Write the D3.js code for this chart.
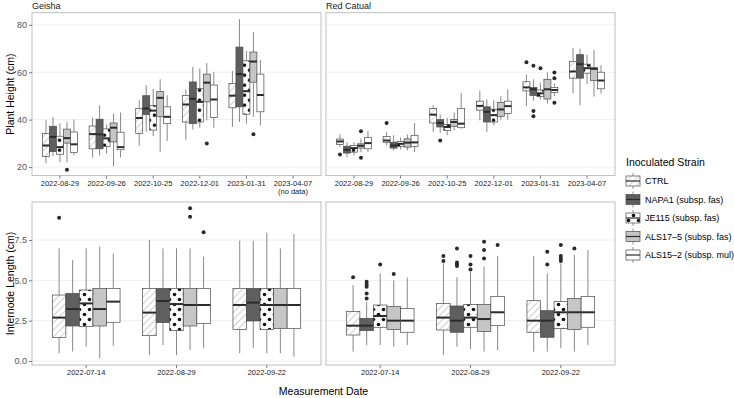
<!DOCTYPE html>
<html>
<head>
<meta charset="utf-8">
<script src="https://cdn.jsdelivr.net/npm/d3@7"></script>
<style>
  body { margin: 0; background: #fff; }
  svg { font-family: "Liberation Sans", Arial, sans-serif; }
</style>
</head>
<body>
<svg id="chart" width="734" height="398"></svg>
<script>
// strains, in dodge order
const strains = ['CTRL', 'NAPA1', 'JE115', 'ALS17-5', 'ALS15-2'];
const strainLabels = ['CTRL', 'NAPA1 (subsp. fas)', 'JE115 (subsp. fas)', 'ALS17–5 (subsp. fas)', 'ALS15–2 (subsp. mul)'];

const heightDates = ['2022-08-29', '2022-09-26', '2022-10-25', '2022-12-01', '2023-01-31', '2023-04-07'];
const internodeDates = ['2022-07-14', '2022-08-29', '2022-09-22'];
const heightTicks = [20, 40, 60, 80];
const internodeTicks = [0, 2.5, 5, 7.5];

// [lower whisker, q1, median, q3, upper whisker] - one row per strain, one block per date
const geishaHeight = [
  [[21.6, 24.4, 29.1, 34.1, 39.7], [24.6, 26.5, 32.7, 37.2, 41.1], [22, 25.4, 28.4, 33.0, 38.5], [22, 30.1, 32.2, 36.0, 39], [25, 26.1, 29.6, 34.8, 40]],
  [[24, 27.7, 33.9, 37.3, 40.9], [24.9, 27.7, 33.8, 40.2, 46], [25.6, 28.7, 32.1, 36.1, 38], [20.3, 30.6, 36.6, 38.6, 42.6], [24, 27.3, 28.4, 34.7, 43]],
  [[29, 34.1, 40.7, 44.7, 48.2], [35, 42.1, 44.7, 50.1, 54.6], [33, 35.6, 43.8, 46, 52.9], [26.3, 41.2, 49.2, 51.8, 57], [31, 38.3, 41.2, 45.4, 50.3]],
  [[31.5, 39, 46.4, 50.2, 52.7], [35.8, 38.3, 48.8, 55.9, 62.3], [36.6, 39, 47.5, 53.2, 61.6], [39.7, 47.5, 55.6, 59.2, 63.8], [36.6, 40.9, 48.5, 54.6, 60.1]],
  [[36.9, 45, 50.1, 55.3, 60.5], [39, 45.4, 59.2, 70.6, 82.4], [38.3, 42.3, 52, 64.8, 69], [41.2, 55.8, 64.5, 68.5, 76.9], [37.6, 43.3, 50.4, 59.2, 65.2]],
];
const catuaiHeight = [
  [[28.4, 29.5, 30.8, 31.8, 33.8], [24.2, 25.9, 27.3, 28.8, 30.5], [24.9, 26.3, 28, 29.1, 30.5], [26.3, 28, 29, 29.8, 32], [26.3, 27.7, 30.1, 32.4, 35.2]],
  [[29.1, 30.3, 31.2, 32.9, 34.8], [27, 28, 29.1, 30.5, 33.4], [27.5, 28.7, 29.8, 30.8, 32.5], [27, 28.4, 30.3, 31.9, 33.7], [26.3, 28.7, 30.4, 33.4, 38.6]],
  [[34.8, 38.6, 42.1, 44.7, 46.1], [34.4, 36.9, 38.6, 40, 42.1], [33.4, 35.5, 36.9, 38, 40.8], [35.5, 37.2, 39, 40.1, 43], [36.2, 36.6, 38.3, 44.7, 51.3]],
  [[39.7, 44, 45.8, 47.8, 52.2], [34.8, 39, 43.3, 45.4, 48.5], [37.6, 39, 41.9, 44.4, 48.2], [40, 41.4, 44.3, 47.3, 49.9], [40, 42.6, 45.7, 47.8, 52.8]],
  [[45.7, 52.1, 53.6, 56, 58.9], [48, 50.2, 52.8, 53.6, 57], [48.5, 49.7, 51.1, 52.5, 55.6], [46.8, 48.7, 52.8, 57, 59.9], [49.9, 51.4, 52.5, 53.6, 55.3]],
  [[51.1, 57.5, 60.3, 64.5, 70.2], [46.1, 57.5, 63.4, 67.4, 69.9], [55, 59.6, 61.7, 63.4, 67.4], [49.7, 56.5, 61.4, 62, 69.5], [51, 53, 56.5, 60, 63]],
];
const geishaInternode = [
  [[0.48, 1.45, 2.69, 4.09, 6.98], [0.58, 2.17, 3.22, 4.19, 6.26], [0.89, 2.13, 3.57, 4.4, 6.98], [0.17, 2.17, 3.22, 4.5, 7.09], [0.95, 2.4, 3.68, 4.5, 6.67]],
  [[0.37, 1.57, 3.0, 4.5, 7.5], [0.99, 2.38, 3.72, 4.5, 6.98], [0.37, 1.88, 3.53, 4.5, 6.98], [0.68, 2.17, 3.47, 4.5, 6.98], [0.79, 2.33, 3.47, 4.5, 6.47]],
  [[0.48, 1.96, 3.47, 4.5, 7.46], [0.79, 2.48, 3.62, 4.5, 7.46], [0.48, 1.96, 3.47, 4.5, 7.96], [0.48, 2.02, 3.47, 4.5, 6.98], [0.27, 2.02, 3.47, 4.5, 7.87]],
];
const catuaiInternode = [
  [[0.58, 1.61, 2.19, 3.06, 4.71], [0.99, 1.88, 2.19, 2.64, 3.68], [0.99, 2.09, 2.79, 3.47, 5.43], [0.89, 1.96, 2.5, 3.37, 5.0], [0.99, 1.78, 2.5, 3.26, 5.17]],
  [[0.37, 1.92, 2.69, 3.57, 6.05], [0.89, 1.78, 2.5, 3.41, 5.19], [0.74, 2.09, 2.69, 3.51, 5.54], [0.58, 1.82, 2.6, 3.51, 5.85], [0.68, 2.19, 3.02, 3.99, 6.51]],
  [[0.58, 1.78, 2.5, 3.74, 6.51], [0.58, 1.47, 2.5, 3.12, 5.43], [0.79, 2.02, 3.02, 3.68, 6.05], [0.58, 1.96, 3.02, 3.88, 6.57], [0.99, 2.09, 3.02, 3.99, 6.88]],
];

// outliers: [date, strain, value]
const geishaHeightOut = [
  ['2022-08-29', 'ALS17-5', 18.9], ['2022-12-01', 'ALS17-5', 29.9], ['2023-01-31', 'ALS17-5', 33.8],
];
const catuaiHeightOut = [
  ['2022-08-29', 'CTRL', 25.3], ['2022-08-29', 'ALS17-5', 23.9], ['2022-08-29', 'ALS17-5', 35.1],
  ['2022-09-26', 'CTRL', 38.6], ['2022-10-25', 'NAPA1', 31.2],
  ['2023-01-31', 'CTRL', 64.2], ['2023-01-31', 'NAPA1', 62.7], ['2023-01-31', 'NAPA1', 43.6], ['2023-01-31', 'NAPA1', 41.4],
  ['2023-01-31', 'JE115', 61.7], ['2023-01-31', 'ALS15-2', 59.9], ['2023-01-31', 'ALS15-2', 57.5], ['2023-01-31', 'ALS15-2', 47.1],
];
const geishaInternodeOut = [
  ['2022-07-14', 'CTRL', 8.88], ['2022-08-29', 'ALS17-5', 9.47], ['2022-08-29', 'ALS17-5', 8.95], ['2022-08-29', 'ALS15-2', 7.98],
];
const catuaiInternodeOut = [
  ['2022-07-14', 'CTRL', 5.19], ['2022-07-14', 'NAPA1', 3.88], ['2022-07-14', 'NAPA1', 4.19], ['2022-07-14', 'NAPA1', 4.61],
  ['2022-07-14', 'NAPA1', 4.75], ['2022-07-14', 'NAPA1', 4.92], ['2022-07-14', 'JE115', 5.99], ['2022-07-14', 'ALS17-5', 5.39],
  ['2022-08-29', 'CTRL', 6.2], ['2022-08-29', 'CTRL', 6.51], ['2022-08-29', 'NAPA1', 5.89], ['2022-08-29', 'NAPA1', 5.99],
  ['2022-08-29', 'NAPA1', 6.1], ['2022-08-29', 'NAPA1', 6.98], ['2022-08-29', 'JE115', 5.68], ['2022-08-29', 'JE115', 5.99],
  ['2022-08-29', 'JE115', 6.51], ['2022-08-29', 'ALS17-5', 6.36], ['2022-08-29', 'ALS17-5', 6.88], ['2022-08-29', 'ALS17-5', 7.4],
  ['2022-08-29', 'ALS15-2', 7.19],
  ['2022-09-22', 'NAPA1', 5.99], ['2022-09-22', 'NAPA1', 6.78], ['2022-09-22', 'JE115', 6.2], ['2022-09-22', 'JE115', 6.36],
  ['2022-09-22', 'JE115', 6.51], ['2022-09-22', 'JE115', 7.19], ['2022-09-22', 'ALS17-5', 6.98],
];

const fills = {
  'CTRL': 'url(#hatch)',
  'NAPA1': '#5f5f5f',
  'JE115': 'url(#dots)',
  'ALS17-5': '#c6c6c6',
  'ALS15-2': '#ffffff',
};

const svg = d3.select('#chart');

// fill patterns
const defs = svg.append('defs');
const hatch = defs.append('pattern')
  .attr('id', 'hatch')
  .attr('patternUnits', 'userSpaceOnUse')
  .attr('width', 5)
  .attr('height', 5)
  .attr('patternTransform', 'rotate(45)');
hatch.append('rect').attr('width', 5).attr('height', 5).attr('fill', '#fff');
hatch.append('line')
  .attr('x1', 0).attr('y1', 0).attr('x2', 0).attr('y2', 5)
  .attr('stroke', '#8a8a8a').attr('stroke-width', 0.8);

const dots = defs.append('pattern')
  .attr('id', 'dots')
  .attr('patternUnits', 'userSpaceOnUse')
  .attr('width', 10)
  .attr('height', 10);
dots.append('rect').attr('width', 10).attr('height', 10).attr('fill', '#fff');
dots.append('circle').attr('cx', 2.5).attr('cy', 2.5).attr('r', 1.8).attr('fill', '#111');
dots.append('circle').attr('cx', 7.5).attr('cy', 7.5).attr('r', 1.8).attr('fill', '#111');

const panelW = 289;
const cols = [32, 326];
const topRow = { top: 12.7, height: 162.9, domain: [16.4, 85.1] };
const botRow = { top: 202, height: 163, domain: [-0.25, 9.86] };

function drawPanel(opts) {
  const g = svg.append('g')
    .attr('transform', `translate(${opts.left},${opts.row.top})`);
  const h = opts.row.height;

  const x = d3.scaleBand()
    .domain(opts.dates)
    .range([0, panelW])
    .paddingOuter(0.1);
  const xs = d3.scaleBand()
    .domain(strains)
    .range([-0.375 * x.step(), 0.375 * x.step()]);
  const y = d3.scaleLinear()
    .domain(opts.row.domain)
    .range([h, 0]);

  g.append('rect')
    .attr('width', panelW).attr('height', h)
    .attr('fill', '#fff');

  // horizontal grid only
  g.selectAll('.grid')
    .data(opts.ticks)
    .join('line')
    .attr('class', 'grid')
    .attr('x1', 0).attr('x2', panelW)
    .attr('y1', (d) => y(d)).attr('y2', (d) => y(d))
    .attr('stroke', '#ebebeb')
    .attr('stroke-width', 0.8);

  const rows = [];
  opts.stats.forEach((byStrain, i) => byStrain.forEach((s, j) => {
    rows.push({ date: opts.dates[i], strain: strains[j], s });
  }));
  const cx = (d) => x(d.date) + x.bandwidth() / 2 + xs(d.strain) + xs.bandwidth() / 2;
  const bw = xs.bandwidth();

  const marks = g.append('g');

  // outliers
  marks.selectAll('.outlier')
    .data(opts.outliers)
    .join('circle')
    .attr('class', 'outlier')
    .attr('cx', (d) => cx({ date: d[0], strain: d[1] }))
    .attr('cy', (d) => y(d[2]))
    .attr('r', 2)
    .attr('fill', '#2a2a2a');

  const box = marks.selectAll('.box')
    .data(rows)
    .join('g')
    .attr('class', 'box');

  box.append('line')
    .attr('x1', cx).attr('x2', cx)
    .attr('y1', (d) => y(d.s[0])).attr('y2', (d) => y(d.s[1]))
    .attr('stroke', '#7a7a7a').attr('stroke-width', 0.9);
  box.append('line')
    .attr('x1', cx).attr('x2', cx)
    .attr('y1', (d) => y(d.s[3])).attr('y2', (d) => y(d.s[4]))
    .attr('stroke', '#7a7a7a').attr('stroke-width', 0.9);
  box.append('rect')
    .attr('x', (d) => cx(d) - bw / 2)
    .attr('width', bw)
    .attr('y', (d) => y(d.s[3]))
    .attr('height', (d) => y(d.s[1]) - y(d.s[3]))
    .attr('fill', (d) => fills[d.strain])
    .attr('stroke', '#4a4a4a')
    .attr('stroke-width', 0.7);
  box.append('line')
    .attr('x1', (d) => cx(d) - bw / 2).attr('x2', (d) => cx(d) + bw / 2)
    .attr('y1', (d) => y(d.s[2])).attr('y2', (d) => y(d.s[2]))
    .attr('stroke', '#2b2b2b').attr('stroke-width', 2);

  g.append('rect')
    .attr('width', panelW).attr('height', h)
    .attr('fill', 'none')
    .attr('stroke', '#b8b8b8')
    .attr('stroke-width', 0.9);

  // x axis
  const xAxisG = g.append('g')
    .attr('transform', `translate(0,${h})`)
    .call(d3.axisBottom(x).tickSize(3).tickPadding(2).tickSizeOuter(0));
  xAxisG.select('.domain').remove();
  xAxisG.selectAll('.tick line').attr('stroke', '#444').attr('stroke-width', 0.7);
  xAxisG.selectAll('.tick text')
    .attr('fill', '#222')
    .style('font-size', '7.5px')
    .style('font-family', '"Liberation Sans", Arial, sans-serif');
  if (opts.noData) {
    xAxisG.selectAll('.tick text')
      .filter((d) => d === opts.noData)
      .append('tspan')
      .attr('x', 0)
      .attr('dy', '1.1em')
      .text('(no data)');
  }

  if (opts.yLabels) {
    const yAxisG = g.append('g')
      .call(d3.axisLeft(y).tickValues(opts.ticks).tickFormat(opts.fmt)
        .tickSize(3).tickPadding(2).tickSizeOuter(0));
    yAxisG.select('.domain').remove();
    yAxisG.selectAll('.tick line').attr('stroke', '#444').attr('stroke-width', 0.7);
    yAxisG.selectAll('.tick text')
      .attr('fill', '#555')
      .style('font-size', '9px')
      .style('font-family', '"Liberation Sans", Arial, sans-serif');
  }

  if (opts.strip) {
    svg.append('text')
      .attr('x', opts.left)
      .attr('y', opts.row.top - 4)
      .attr('fill', '#1a1a1a')
      .style('font-size', '9px')
      .text(opts.strip);
  }
}

drawPanel({ left: cols[0], row: topRow, dates: heightDates, stats: geishaHeight, outliers: geishaHeightOut,
  ticks: heightTicks, fmt: d3.format('d'), yLabels: true, strip: 'Geisha', noData: '2023-04-07' });
drawPanel({ left: cols[1], row: topRow, dates: heightDates, stats: catuaiHeight, outliers: catuaiHeightOut,
  ticks: heightTicks, fmt: d3.format('d'), yLabels: false, strip: 'Red Catual' });
drawPanel({ left: cols[0], row: botRow, dates: internodeDates, stats: geishaInternode, outliers: geishaInternodeOut,
  ticks: internodeTicks, fmt: d3.format('.1f'), yLabels: true });
drawPanel({ left: cols[1], row: botRow, dates: internodeDates, stats: catuaiInternode, outliers: catuaiInternodeOut,
  ticks: internodeTicks, fmt: d3.format('.1f'), yLabels: false });

// axis titles
svg.append('text')
  .attr('transform', `translate(10,${topRow.top + topRow.height / 2}) rotate(-90)`)
  .attr('text-anchor', 'middle')
  .attr('dominant-baseline', 'central')
  .style('font-size', '10.5px')
  .text('Plant Height (cm)');
svg.append('text')
  .attr('transform', `translate(10,${botRow.top + botRow.height / 2}) rotate(-90)`)
  .attr('text-anchor', 'middle')
  .attr('dominant-baseline', 'central')
  .style('font-size', '10.5px')
  .text('Internode Length (cm)');
svg.append('text')
  .attr('x', (cols[0] + cols[1] + panelW) / 2)
  .attr('y', 395)
  .attr('text-anchor', 'middle')
  .style('font-size', '10.5px')
  .text('Measurement Date');

// legend
const legend = svg.append('g').attr('transform', 'translate(626,0)');
legend.append('text')
  .attr('x', 0).attr('y', 166)
  .style('font-size', '10.5px')
  .text('Inoculated Strain');
const keys = legend.selectAll('.key')
  .data(strains)
  .join('g')
  .attr('class', 'key')
  .attr('transform', (d, i) => `translate(0,${181 + i * 18.5})`);
keys.append('line')
  .attr('x1', 7).attr('x2', 7).attr('y1', -8).attr('y2', 8)
  .attr('stroke', '#7a7a7a').attr('stroke-width', 0.8);
keys.append('rect')
  .attr('x', 0).attr('y', -5).attr('width', 14).attr('height', 10)
  .attr('fill', (d) => fills[d])
  .attr('stroke', '#4a4a4a').attr('stroke-width', 0.7);
keys.append('line')
  .attr('x1', 0).attr('x2', 14).attr('y1', 0).attr('y2', 0)
  .attr('stroke', '#2b2b2b').attr('stroke-width', 1.2);
keys.append('text')
  .attr('x', 19).attr('y', 0)
  .attr('dominant-baseline', 'central')
  .style('font-size', '9px')
  .text((d, i) => strainLabels[i]);
</script>
</body>
</html>
